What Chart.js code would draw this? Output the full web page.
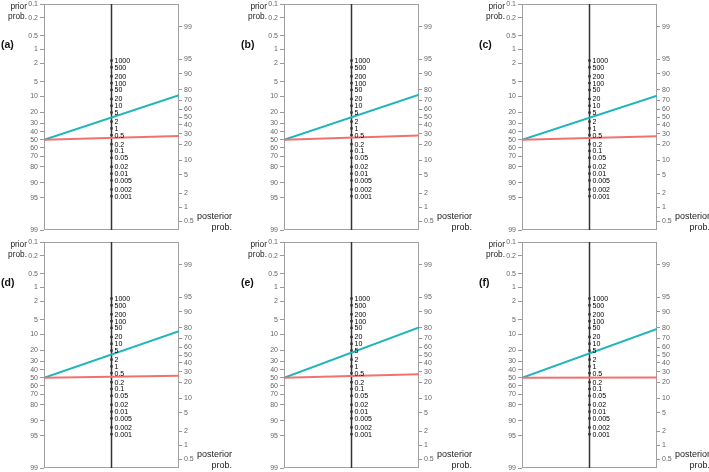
<!DOCTYPE html>
<html>
<head>
<meta charset="utf-8">
<script src="https://cdn.jsdelivr.net/npm/chart.js"></script>
<style>
  body { margin: 0; background: #fff; width: 709px; height: 472px; position: relative; overflow: hidden; font-family: "Liberation Sans", Arial, sans-serif; }
  .pane { position: absolute; width: 238px; height: 234px; }
  .pane canvas { position: absolute; left: 0; top: 0; }
  .tag { position: absolute; font-size: 10.5px; font-weight: bold; color: #111; }
  .prior { position: absolute; font-size: 8.3px; color: #222; text-align: right; line-height: 10px; width: 27px; }
  .post { position: absolute; font-size: 9px; color: #222; text-align: right; line-height: 11px; width: 50px; }
</style>
</head>
<body>

<script>
// panels and read-off values
var panels = ['(a)', '(b)', '(c)', '(d)', '(e)', '(f)'];
var priorProb = [50, 50, 50, 50, 50, 50];           // %
var postPositive = [75.3, 75.6, 74.7, 77.1, 80.2, 79.1]; // % (cyan)
var postNegative = [27.6, 28.0, 27.3, 25.7, 27.3, 24.1]; // % (red)

// tick labels
var priorTicks = ['0.1', '0.2', '0.5', '1', '2', '5', '10', '20', '30', '40', '50', '60', '70', '80', '90', '95', '99'];
var postTicks = ['99', '95', '90', '80', '70', '60', '50', '40', '30', '20', '10', '5', '2', '1', '0.5'];
var lrTicks = ['1000', '500', '200', '100', '50', '20', '10', '5', '2', '1', '0.5', '0.2', '0.1', '0.05', '0.02', '0.01', '0.005', '0.002', '0.001'];

var paneLeft = [0, 240, 478];
var paneTop = [0, 238];

function logit(p) { return Math.log(p / (1 - p)); }
var yMin = -logit(0.99);
var yMax = -logit(0.001);
var off = (yMax + yMin) / 2;   // shift between prior and posterior scales

// helpers: prior / posterior / LR in common (left-scale) units
function priorY(pct) { return -logit(pct / 100); }
function postY(pct) { return logit(pct / 100) + off; }
function lrY(lr) { return Math.log(lr) / 2 + off / 2; }

var tickFont = { family: '"Liberation Sans", Arial, sans-serif', size: 7 };

function noPad(s) { s.paddingTop = 0; s.paddingBottom = 0; }

var boxPlugin = {
  id: 'box',
  beforeDatasetsDraw: function (chart) {
    var a = chart.chartArea, ctx = chart.ctx;
    ctx.save();
    ctx.strokeStyle = '#a0a0a0';
    ctx.lineWidth = 1;
    ctx.strokeRect(a.left + 0.5, a.top + 0.5, a.right - a.left - 1, a.bottom - a.top - 1);
    ctx.restore();
  },
  afterDatasetsDraw: function (chart) {
    var ctx = chart.ctx, xs = chart.scales.x, ys = chart.scales.y;
    ctx.save();
    ctx.fillStyle = '#000';
    ctx.font = '7px "Liberation Sans", Arial, sans-serif';
    ctx.textBaseline = 'middle';
    var x = xs.getPixelForValue(0.5) + 3;
    lrTicks.forEach(function (t) {
      ctx.fillText(t, x, ys.getPixelForValue(lrY(parseFloat(t))) + 0.5);
    });
    ctx.restore();
  }
};

panels.forEach(function (name, i) {
  var col = i % 3, row = Math.floor(i / 3);
  var pane = document.createElement('div');
  pane.className = 'pane';
  pane.style.left = paneLeft[col] + 'px';
  pane.style.top = paneTop[row] + 'px';
  pane.innerHTML = '<canvas width="238" height="234"></canvas>' +
    '<div class="tag" style="left:1px;top:38px">' + name + '</div>' +
    '<div class="prior" style="left:0px;top:1px">prior<br>prob.</div>' +
    '<div class="post" style="left:182px;top:211px">posterior<br>prob.</div>';
  document.body.appendChild(pane);

  var lrPoints = lrTicks.map(function (t) { return { x: 0.5, y: lrY(parseFloat(t)) }; });

  new Chart(pane.querySelector('canvas'), {
    type: 'scatter',
    data: {
      datasets: [
        {
          data: [{ x: 0, y: priorY(priorProb[i]) }, { x: 1, y: postY(postNegative[i]) }],
          showLine: true, borderColor: '#ef7270', borderWidth: 2, pointRadius: 0
        },
        {
          data: [{ x: 0, y: priorY(priorProb[i]) }, { x: 1, y: postY(postPositive[i]) }],
          showLine: true, borderColor: '#1fb5b9', borderWidth: 2, pointRadius: 0
        },
        {
          data: [{ x: 0.5, y: yMin }, { x: 0.5, y: yMax }],
          showLine: true, borderColor: '#333', borderWidth: 1.5, pointRadius: 0
        },
        {
          data: lrPoints,
          showLine: false, pointStyle: 'rect', pointRadius: 1.6,
          backgroundColor: '#000', borderColor: '#000', borderWidth: 0
        }
      ]
    },
    options: {
      responsive: false,
      animation: false,
      events: [],
      layout: { padding: { top: 3, bottom: 4, left: 0, right: 0 } },
      plugins: { legend: { display: false }, tooltip: { enabled: false } },
      scales: {
        x: { type: 'linear', min: 0, max: 1, display: false },
        y: {
          type: 'linear', position: 'left', min: yMin, max: yMax,
          afterFit: function (s) { s.width = 44; noPad(s); },
          afterBuildTicks: function (s) {
            s.ticks = priorTicks.map(function (t) { return { value: priorY(parseFloat(t)) }; });
          },
          ticks: {
            autoSkip: false, color: '#666', font: tickFont, padding: 2,
            callback: function (v, idx) { return priorTicks[idx]; }
          },
          grid: { drawOnChartArea: false, tickLength: 4, color: '#999' },
          border: { display: false }
        },
        y2: {
          type: 'linear', position: 'right', min: yMin - off, max: yMax - off,
          afterFit: function (s) { s.width = 59; noPad(s); },
          afterBuildTicks: function (s) {
            s.ticks = postTicks.map(function (t) { return { value: logit(parseFloat(t) / 100) }; });
          },
          ticks: {
            autoSkip: false, color: '#666', font: tickFont, padding: 2,
            callback: function (v, idx) { return postTicks[idx]; }
          },
          grid: { drawOnChartArea: false, tickLength: 3, color: '#999' },
          border: { display: false }
        }
      }
    },
    plugins: [boxPlugin]
  });
});
</script>
</body>
</html>
